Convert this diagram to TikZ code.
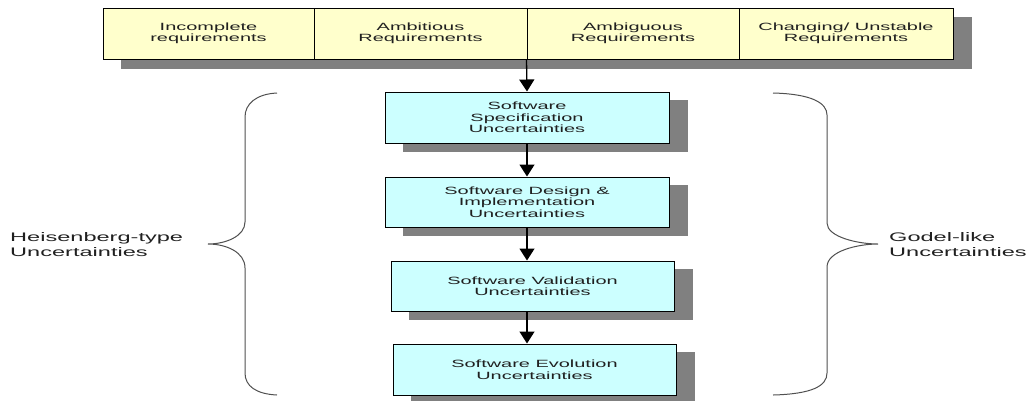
\documentclass[tikz,border=0pt]{standalone}
\usepackage{fontspec}
\newfontfamily\widesans[FakeStretch=1.9]{Liberation Sans}
\usetikzlibrary{arrows.meta,backgrounds}
\definecolor{reqfill}{HTML}{FFFFCC}
\definecolor{uncfill}{HTML}{CCFFFF}
\definecolor{shadowc}{HTML}{808080}
\definecolor{bracec}{HTML}{505050}
\definecolor{textc}{HTML}{202020}
\tikzset{
  reqcell/.style={draw=black, line width=1pt, fill=reqfill, minimum height=51pt,
    inner sep=0pt, align=center, text=textc,
    font=\fontsize{10.5}{11.5}\selectfont\widesans},
  uncbox/.style={draw=black, line width=1pt, fill=uncfill, minimum height=50pt,
    minimum width=283pt, inner sep=0pt, align=center, text=textc,
    font=\fontsize{10.5}{11.5}\selectfont\widesans},
  flow/.style={line width=1.3pt, -{Triangle[width=15pt,length=12pt]}},
  bracestyle/.style={draw=bracec, line width=1pt},
  sidelabel/.style={anchor=west, align=left, inner sep=0pt, text=textc,
    font=\fontsize{12.4}{15}\selectfont\widesans},
}
\begin{document}
\begin{tikzpicture}[x=1pt,y=-1pt]
\useasboundingbox (0,0) rectangle (1028,400);
% top requirement bar
\node[reqcell, minimum width=211pt] (c1) at (208.5,33.5) {Incomplete\\requirements};
\node[reqcell, minimum width=213pt] (c2) at (420.5,33.5) {Ambitious\\Requirements};
\node[reqcell, minimum width=212pt] (c3) at (633,33.5) {Ambiguous\\Requirements};
\node[reqcell, minimum width=214pt] (c4) at (846,33.5) {Changing/ Unstable\\Requirements};
% uncertainty boxes
\node[uncbox, minimum width=284pt, minimum height=51pt] (spec) at (527,117.5) {Software\\Specification\\Uncertainties};
\node[uncbox, minimum width=284pt] (design) at (527,202) {Software Design \&\\Implementation\\Uncertainties};
\node[uncbox] (valid) at (532.5,286) {Software Validation\\Uncertainties};
\node[uncbox, minimum height=51pt] (evol) at (534.5,369.5) {Software Evolution\\Uncertainties};
% shadows
\begin{scope}[on background layer]
  \fill[shadowc] ([shift={(18,9)}]c1.north west) rectangle ([shift={(18,9)}]c4.south east);
  \foreach \b in {spec,design,valid,evol}
    \fill[shadowc] ([shift={(18,8)}]\b.north west) rectangle ([shift={(18,8)}]\b.south east);
\end{scope}
% connectors
\draw[flow] (c3.south west) -- (spec.north);
\draw[flow] (spec.south) -- (design.north);
\draw[flow] (design.south) -- (design.south |- valid.north);
\draw[flow] (design.south |- valid.south) -- (design.south |- evol.north);
% braces
\draw[bracestyle] (277,93) .. controls (256,94) and (245,104) .. (245,117)
  -- (245,222) .. controls (245,236) and (226,244) .. (208,244)
  .. controls (226,244) and (245,252) .. (245,268)
  -- (245,373) .. controls (245,386) and (256,394) .. (277,395);
\draw[bracestyle] (773,93) .. controls (812,94) and (827,103) .. (827,115)
  -- (827,223) .. controls (827,237) and (858,244) .. (878,244)
  .. controls (858,244) and (827,251) .. (827,267)
  -- (827,373) .. controls (827,386) and (812,394) .. (773,395);
% labels
\node[sidelabel] (heis) at (10,244.5) {Heisenberg-type\\Uncertainties};
\node[sidelabel] (godel) at (889,244.5) {Godel-like\\Uncertainties};
\end{tikzpicture}
\end{document}
